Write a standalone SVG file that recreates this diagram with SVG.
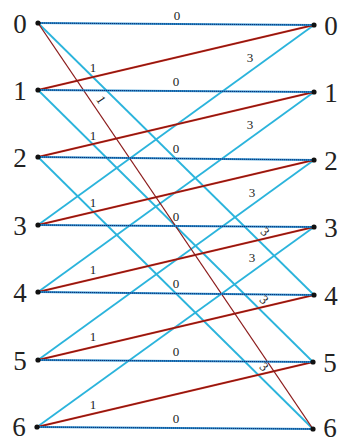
<svg xmlns="http://www.w3.org/2000/svg" width="340" height="442" viewBox="0 0 340 442">
<style>
.bg{fill:#ffffff}
.c3{stroke:#2bb4dc;stroke-width:1.8;fill:none}
.r1{stroke:#cc2a1c;stroke-width:2.2;fill:none}
.r1d{stroke:#4a0a0a;stroke-width:0.6;fill:none}
.rl{stroke:#8c1c1c;stroke-width:1.3;fill:none}
.b0{stroke:#2a8fd0;stroke-width:2.2;fill:none}
.b0d{stroke:#0d2d6e;stroke-width:1;stroke-dasharray:1.2 0.8;fill:none}
.lab{font-family:"Liberation Serif","DejaVu Serif",serif;font-size:13px;fill:#222;text-anchor:middle}
.num{font-family:"Liberation Serif","DejaVu Serif",serif;font-size:27px;fill:#222;text-anchor:middle}
.dot{fill:#111}
</style>
<rect class="bg" x="0" y="0" width="340" height="442"/>
<g id="connectors">
  <line class="c3" x1="38" y1="225" x2="314" y2="25"/>
  <line class="c3" x1="38" y1="292" x2="314" y2="92"/>
  <line class="c3" x1="38" y1="360" x2="314" y2="160"/>
  <line class="c3" x1="37" y1="427" x2="314" y2="227"/>
  <line class="c3" x1="38" y1="23" x2="314" y2="295"/>
  <line class="c3" x1="38" y1="90" x2="313" y2="362"/>
  <line class="c3" x1="38" y1="157" x2="313" y2="429"/>
  <line class="r1" x1="38" y1="90" x2="314" y2="25"/>
  <line class="r1" x1="38" y1="157" x2="314" y2="92"/>
  <line class="r1" x1="38" y1="225" x2="314" y2="160"/>
  <line class="r1" x1="38" y1="292" x2="314" y2="227"/>
  <line class="r1" x1="38" y1="360" x2="314" y2="295"/>
  <line class="r1" x1="37" y1="427" x2="313" y2="362"/>
  <line class="r1d" x1="38" y1="90" x2="314" y2="25"/>
  <line class="r1d" x1="38" y1="157" x2="314" y2="92"/>
  <line class="r1d" x1="38" y1="225" x2="314" y2="160"/>
  <line class="r1d" x1="38" y1="292" x2="314" y2="227"/>
  <line class="r1d" x1="38" y1="360" x2="314" y2="295"/>
  <line class="r1d" x1="37" y1="427" x2="313" y2="362"/>
  <line class="rl" x1="38" y1="23" x2="313" y2="429"/>
  <line class="b0" x1="38" y1="23" x2="314" y2="25"/>
  <line class="b0" x1="38" y1="90" x2="314" y2="92"/>
  <line class="b0" x1="38" y1="157" x2="314" y2="160"/>
  <line class="b0" x1="38" y1="225" x2="314" y2="227"/>
  <line class="b0" x1="38" y1="292" x2="314" y2="295"/>
  <line class="b0" x1="38" y1="360" x2="313" y2="362"/>
  <line class="b0" x1="37" y1="427" x2="313" y2="429"/>
  <line class="b0d" x1="38" y1="23" x2="314" y2="25"/>
  <line class="b0d" x1="38" y1="90" x2="314" y2="92"/>
  <line class="b0d" x1="38" y1="157" x2="314" y2="160"/>
  <line class="b0d" x1="38" y1="225" x2="314" y2="227"/>
  <line class="b0d" x1="38" y1="292" x2="314" y2="295"/>
  <line class="b0d" x1="38" y1="360" x2="313" y2="362"/>
  <line class="b0d" x1="37" y1="427" x2="313" y2="429"/>
  <text class="lab" x="177" y="20">0</text>
  <text class="lab" x="176" y="86">0</text>
  <text class="lab" x="176" y="153">0</text>
  <text class="lab" x="176" y="221">0</text>
  <text class="lab" x="176" y="288">0</text>
  <text class="lab" x="176" y="356">0</text>
  <text class="lab" x="176" y="423">0</text>
  <text class="lab" x="93" y="72">1</text>
  <text class="lab" x="93" y="140">1</text>
  <text class="lab" x="93" y="207">1</text>
  <text class="lab" x="93" y="274">1</text>
  <text class="lab" x="93" y="341">1</text>
  <text class="lab" x="93" y="409">1</text>
  <text class="lab" transform="translate(101,100) rotate(56)" x="0" y="4">1</text>
  <text class="lab" x="250" y="62">3</text>
  <text class="lab" x="250" y="129">3</text>
  <text class="lab" x="252" y="197">3</text>
  <text class="lab" x="252" y="262">3</text>
  <text class="lab" transform="translate(265,232) rotate(45)" x="0" y="4">3</text>
  <text class="lab" transform="translate(264,300) rotate(45)" x="0" y="4">3</text>
  <text class="lab" transform="translate(264,367) rotate(45)" x="0" y="4">3</text>
</g>
<g id="L0"><circle class="dot" cx="38" cy="23" r="2.6"/><text class="num" x="20" y="33">0</text></g>
<g id="L1"><circle class="dot" cx="38" cy="90" r="2.6"/><text class="num" x="20" y="100">1</text></g>
<g id="L2"><circle class="dot" cx="38" cy="157" r="2.6"/><text class="num" x="20" y="167">2</text></g>
<g id="L3"><circle class="dot" cx="38" cy="225" r="2.6"/><text class="num" x="20" y="235">3</text></g>
<g id="L4"><circle class="dot" cx="38" cy="292" r="2.6"/><text class="num" x="20" y="302">4</text></g>
<g id="L5"><circle class="dot" cx="38" cy="360" r="2.6"/><text class="num" x="20" y="370">5</text></g>
<g id="L6"><circle class="dot" cx="37" cy="427" r="2.6"/><text class="num" x="19" y="436">6</text></g>
<g id="R0"><circle class="dot" cx="314" cy="25" r="2.6"/><text class="num" x="331" y="35">0</text></g>
<g id="R1"><circle class="dot" cx="314" cy="92" r="2.6"/><text class="num" x="331" y="102">1</text></g>
<g id="R2"><circle class="dot" cx="314" cy="160" r="2.6"/><text class="num" x="331" y="170">2</text></g>
<g id="R3"><circle class="dot" cx="314" cy="227" r="2.6"/><text class="num" x="331" y="237">3</text></g>
<g id="R4"><circle class="dot" cx="314" cy="295" r="2.6"/><text class="num" x="331" y="305">4</text></g>
<g id="R5"><circle class="dot" cx="313" cy="362" r="2.6"/><text class="num" x="330" y="372">5</text></g>
<g id="R6"><circle class="dot" cx="313" cy="429" r="2.6"/><text class="num" x="330" y="437">6</text></g>
</svg>
